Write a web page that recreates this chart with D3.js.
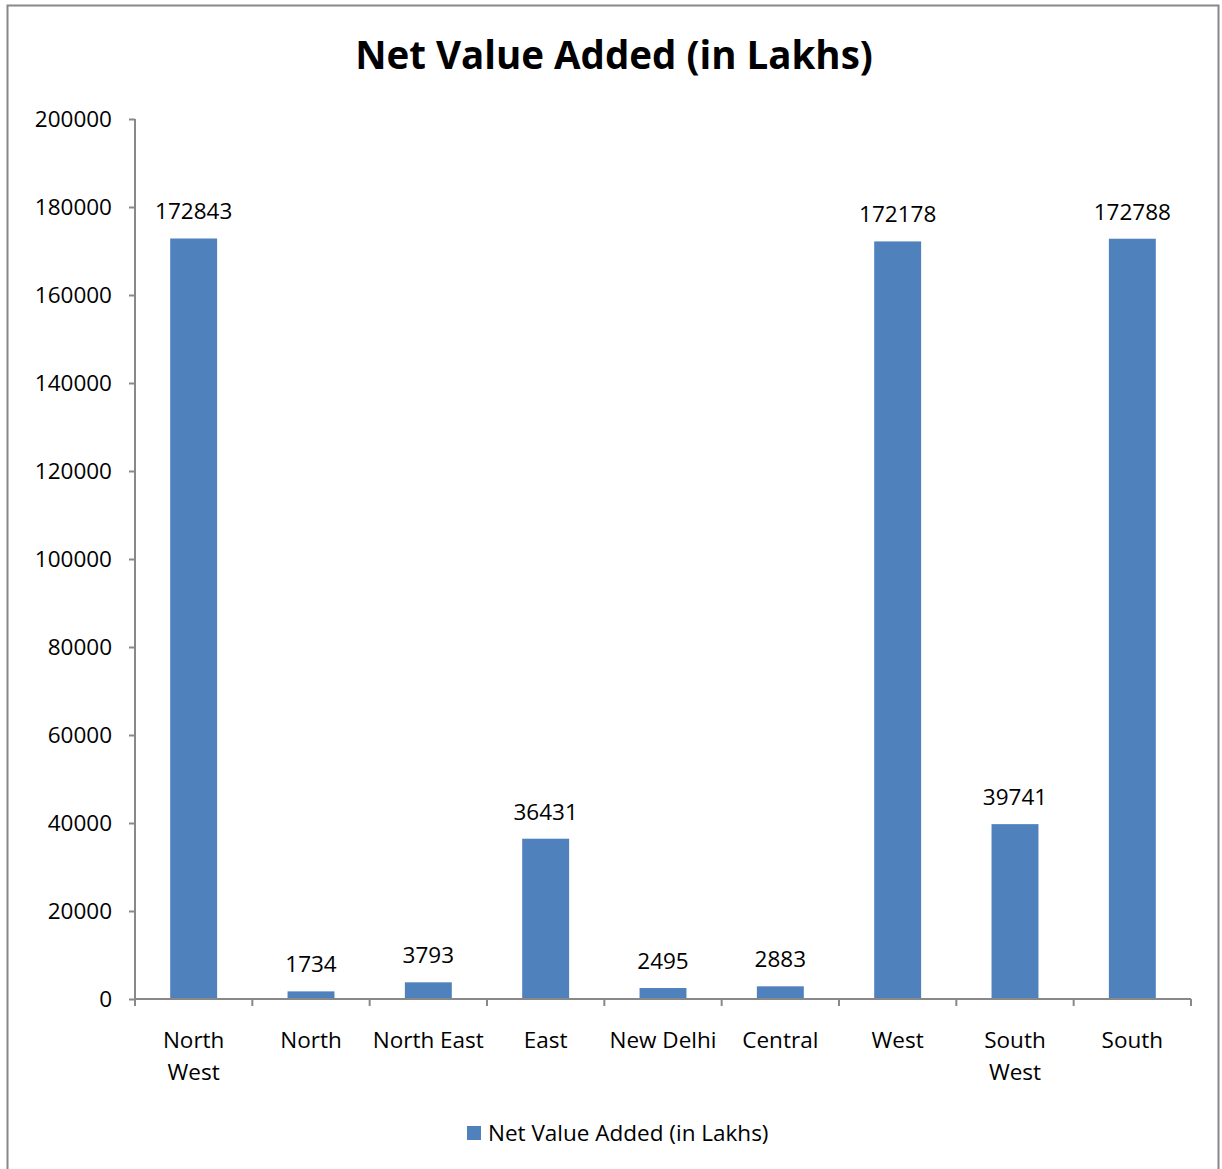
<!DOCTYPE html>
<html><head><meta charset="utf-8">
<script src="https://cdn.jsdelivr.net/npm/d3@7"></script>
<style>body{margin:0;background:#fff}svg{display:block}text{font-family:"Open Sans",sans-serif;fill:#000}</style>
</head><body><svg id="c" width="1222" height="1169"></svg>
<script>
const categories = [["North","West"],["North"],["North East"],["East"],["New Delhi"],["Central"],["West"],["South","West"],["South"]];
const values = [172843,1734,3793,36431,2495,2883,172178,39741,172788];
const yTicks = [0,20000,40000,60000,80000,100000,120000,140000,160000,180000,200000];
const title = "Net Value Added (in Lakhs)";
const seriesName = "Net Value Added (in Lakhs)";

const FS = 22.5;
const svg = d3.select("#c");
svg.append("rect").attr("x",7.5).attr("y",5.5).attr("width",1211).attr("height",1200).attr("fill","none").attr("stroke","#888").attr("stroke-width",2);
svg.append("text").attr("x",614).attr("y",69).attr("text-anchor","middle").attr("font-size",38.5).attr("font-weight","bold").text(title);

const x = d3.scaleBand().domain(categories.map((d,i)=>i)).range([135,1191]).paddingInner(0).paddingOuter(0);
const y = d3.scaleLinear().domain([0,200000]).range([999,119]);
const color = "#4F81BD";

// y axis
const ya = svg.append("g").attr("transform","translate(135,0)").call(d3.axisLeft(y).tickValues(yTicks).tickSize(6).tickFormat(d3.format("d")));
ya.select(".domain").attr("stroke","#888").attr("stroke-width",2).attr("d","M0,119V999");
ya.selectAll(".tick line").attr("stroke","#888").attr("stroke-width",2);
ya.selectAll(".tick text").attr("font-size",FS).attr("x",-23).attr("dy","0.35em").style("font-family","'Open Sans',sans-serif").attr("fill","#000");

// bars
const bw = x.bandwidth()*0.4;
svg.selectAll("rect.bar").data(values).enter().append("rect").attr("class","bar")
  .attr("x",(d,i)=>x(i)+x.bandwidth()/2-bw/2).attr("width",bw)
  .attr("y",d=>y(d)).attr("height",d=>999-y(d)).attr("fill",color);

// value labels
svg.selectAll("text.val").data(values).enter().append("text").attr("class","val")
  .attr("x",(d,i)=>x(i)+x.bandwidth()/2).attr("y",d=>y(d)-19)
  .attr("text-anchor","middle").attr("font-size",FS).text(d=>d);

// x axis
const xa = svg.append("g");
xa.append("line").attr("x1",135).attr("x2",1191).attr("y1",999).attr("y2",999).attr("stroke","#888").attr("stroke-width",2);
const bounds = categories.map((d,i)=>x(i)).concat([x.range()[1]]);
xa.selectAll("line.t").data(bounds).enter().append("line").attr("class","t")
  .attr("x1",d=>d).attr("x2",d=>d).attr("y1",999).attr("y2",1006).attr("stroke","#888").attr("stroke-width",2);
categories.forEach((lines,i)=>{
  const t = svg.append("text").attr("text-anchor","middle").attr("font-size",FS);
  lines.forEach((ln,j)=>t.append("tspan").attr("x",x(i)+x.bandwidth()/2).attr("y",1048+j*32).text(ln));
});

// legend
svg.append("rect").attr("x",467).attr("y",1126).attr("width",14).attr("height",14).attr("fill",color);
svg.append("text").attr("x",488).attr("y",1141).attr("font-size",FS).text(seriesName);
</script></body></html>
